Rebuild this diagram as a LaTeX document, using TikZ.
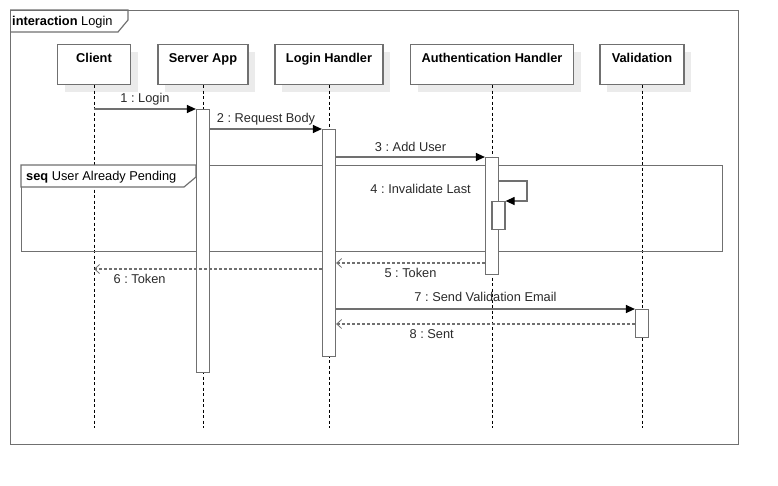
\documentclass[tikz,border=0pt]{standalone}
\usepackage{fontspec}
\setmainfont{Liberation Sans}
\frenchspacing
\usetikzlibrary{arrows.meta,positioning,shadows}
\definecolor{linegray}{HTML}{707070}
\definecolor{shade}{HTML}{EBEBEB}
\definecolor{txt}{HTML}{2A2A2A}
\tikzset{
  frame/.style={rectangle, draw=linegray, line width=1.2pt, inner sep=0pt},
  head/.style={rectangle, draw=linegray, line width=1.2pt, fill=white, font=\fontsize{12.8}{15}\selectfont\bfseries,
    inner sep=0pt, text height=18pt, text depth=22pt, anchor=north,
    drop shadow={shadow xshift=7pt, shadow yshift=-7pt, fill=shade, opacity=1}},
  act/.style={rectangle, draw=linegray, line width=1.2pt, fill=white, minimum width=13pt, inner sep=0pt, anchor=north},
  lifeline/.style={black, line width=0.8pt, dash pattern=on 3pt off 2.5pt},
  msg/.style={draw=linegray, line width=1.2pt, -{Triangle[length=9pt,width=8pt,black]}},
  ret/.style={draw=linegray, line width=1.2pt, dash pattern=on 3pt off 2pt, -{Straight Barb[length=5pt,width=9pt,line width=0.8pt]}},
  lbl/.style={font=\fontsize{12.8}{15}\selectfont, text=txt, inner sep=0pt, anchor=base}
}
\begin{document}
\begin{tikzpicture}[x=1pt, y=-1pt]
\useasboundingbox (0,0) rectangle (778,485);
\node[frame, minimum width=728pt, minimum height=434pt, anchor=north west] (sd) at (10,10) {};
\draw[draw=linegray, line width=1.2pt] (sd.north west) -- (128,10) -- (128,20) -- (118,32) -- (10,32);
\node[lbl, anchor=base west, text=black] (sdname) at (12,25) {\textbf{interaction} Login};

\node[head, minimum width=73pt] (client) at (94,44) {Client};
\node[head, minimum width=90pt] (serverapp) at (203,44) {Server App};
\node[head, minimum width=108pt] (loginh) at (329,44) {Login Handler};
\node[head, minimum width=163pt] (authh) at (492,44) {Authentication Handler};
\node[head, minimum width=84pt] (valid) at (642,44) {Validation};
\coordinate (lend) at (0,428);
\foreach \n in {client,serverapp,loginh,authh,valid}
  \draw[lifeline] (\n.south) -- (\n.south |- lend);

\node[frame, minimum width=701pt, minimum height=86pt, anchor=north west] (pending) at (21,165) {};
\draw[draw=linegray, line width=1.2pt, fill=white] (pending.north west) -- (196,165) -- (196,177) -- (184,187) -- (21,187) -- cycle;
\node[lbl, anchor=base west, text=black] (pendname) at (26,180) {\textbf{seq} User Already Pending};

\node[act, minimum height=263pt] (actserver) at (203,109) {};
\node[act, minimum height=227pt] (actlogin) at (329,129) {};
\node[act, minimum height=117pt] (actauth) at (492,157) {};
\node[act, minimum height=28pt] (actself) at (498.5,201) {};
\node[act, minimum height=28pt] (actvalid) at (642,309) {};

\coordinate (m1) at (94,109);
\coordinate (s4) at (527,181);
\coordinate (r5) at (492,263);
\coordinate (r6) at (94,269);
\coordinate (r8) at (642,324);
\draw[msg] (m1) -- (actserver.north west) node[lbl, midway, yshift=7pt] {1 : Login};
\draw[msg] (actserver.east |- actlogin.north) -- (actlogin.north west) node[lbl, midway, yshift=7pt] {2 : Request Body};
\draw[msg] (actlogin.east |- actauth.north) -- (actauth.north west) node[lbl, midway, yshift=6pt] {3 : Add User};
\draw[msg] (actauth.east |- s4) -- (s4) |- (actself.north east);
\node[lbl, anchor=base east] (lbl4) at (471,193) {4 : Invalidate Last};
\draw[ret] (actauth.west |- r5) -- (actlogin.east |- r5) node[lbl, midway, yshift=-14pt] {5 : Token};
\draw[ret] (actlogin.west |- r6) -- (r6) node[lbl, pos=0.8, yshift=-14pt] {6 : Token};
\draw[msg] (actlogin.east |- actvalid.north) -- (actvalid.north west) node[lbl, midway, yshift=8pt] {7 : Send Validation Email};
\draw[ret] (actvalid.west |- r8) -- (actlogin.east |- r8) node[lbl, pos=0.68, yshift=-14pt] {8 : Sent};
\end{tikzpicture}
\end{document}
